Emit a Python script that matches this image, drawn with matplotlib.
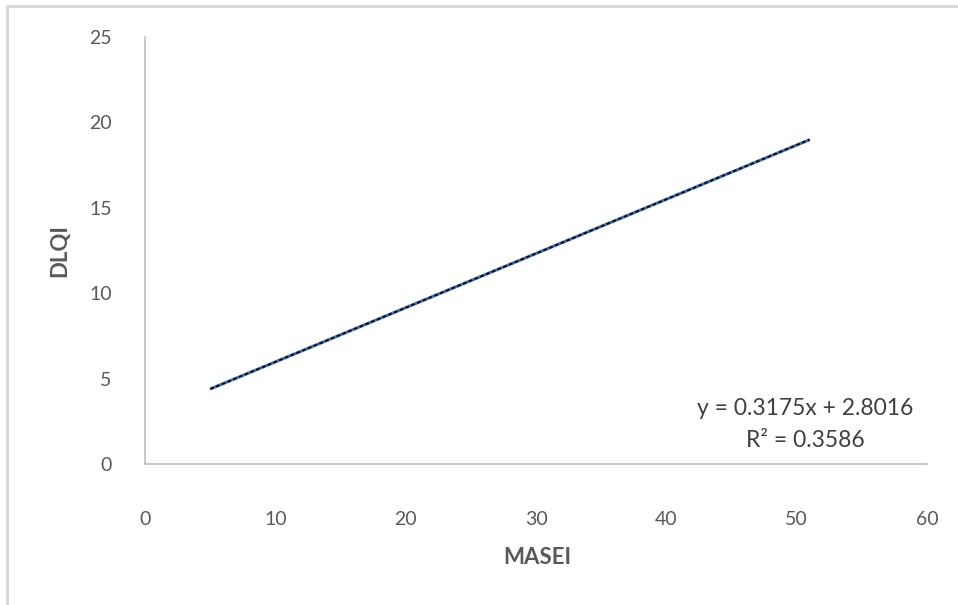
import matplotlib.pyplot as plt
from matplotlib.patches import Rectangle

# trendline end points
masei = [5, 51]
dlqi = [4.39, 18.99]
equation = "y = 0.3175x + 2.8016"
r_squared = "R² = 0.3586"
x_ticks = [0, 10, 20, 30, 40, 50, 60]
y_ticks = [0, 5, 10, 15, 20, 25]

plt.rcParams["font.family"] = ["Lato", "DejaVu Sans"]

W, H = 958, 605
fig = plt.figure(figsize=(W / 100, H / 100), dpi=100)
ax = fig.add_axes([145 / W, 1 - 464 / H, (927 - 145) / W, (464 - 37) / H])

# light grey chart frame
fig.patches.append(Rectangle((7 / W, -0.05), 1.1, 1 - 6 / H + 0.05,
                             transform=fig.transFigure, fill=False,
                             edgecolor="#d9d9d9", linewidth=2.2))

ax.plot(masei, dlqi, color="#4472c4", linewidth=2.2, solid_capstyle="butt")
ax.plot(masei, dlqi, color="#111111", linewidth=1.4, linestyle=(0, (2, 1.2)))

ax.set_xlim(0, 60)
ax.set_ylim(0, 25)
ax.set_xticks(x_ticks)
ax.set_yticks(y_ticks)
ax.tick_params(length=0, labelsize=14, labelcolor="#595959")
ax.tick_params(axis="x", pad=34)
ax.tick_params(axis="y", pad=24)

for side in ["top", "right"]:
    ax.spines[side].set_visible(False)
for side in ["left", "bottom"]:
    ax.spines[side].set_color("#bfbfbf")
    ax.spines[side].set_linewidth(1.2)

ax.set_xlabel("MASEI", fontsize=16, fontweight="bold", color="#595959")
ax.set_ylabel("DLQI", fontsize=16, fontweight="bold", color="#595959")
ax.xaxis.label.set_va("center")
ax.yaxis.label.set_va("center")
ax.xaxis.set_label_coords(0.501, -0.220)
ax.yaxis.set_label_coords(-0.109, 0.5)

ax.text(0.844, 0.131, equation, transform=ax.transAxes, ha="center",
        va="center", fontsize=16.5, color="#404040")
ax.text(0.844, 0.056, r_squared, transform=ax.transAxes, ha="center",
        va="center", fontsize=16.5, color="#404040")

fig.savefig("out.png", dpi=100)
